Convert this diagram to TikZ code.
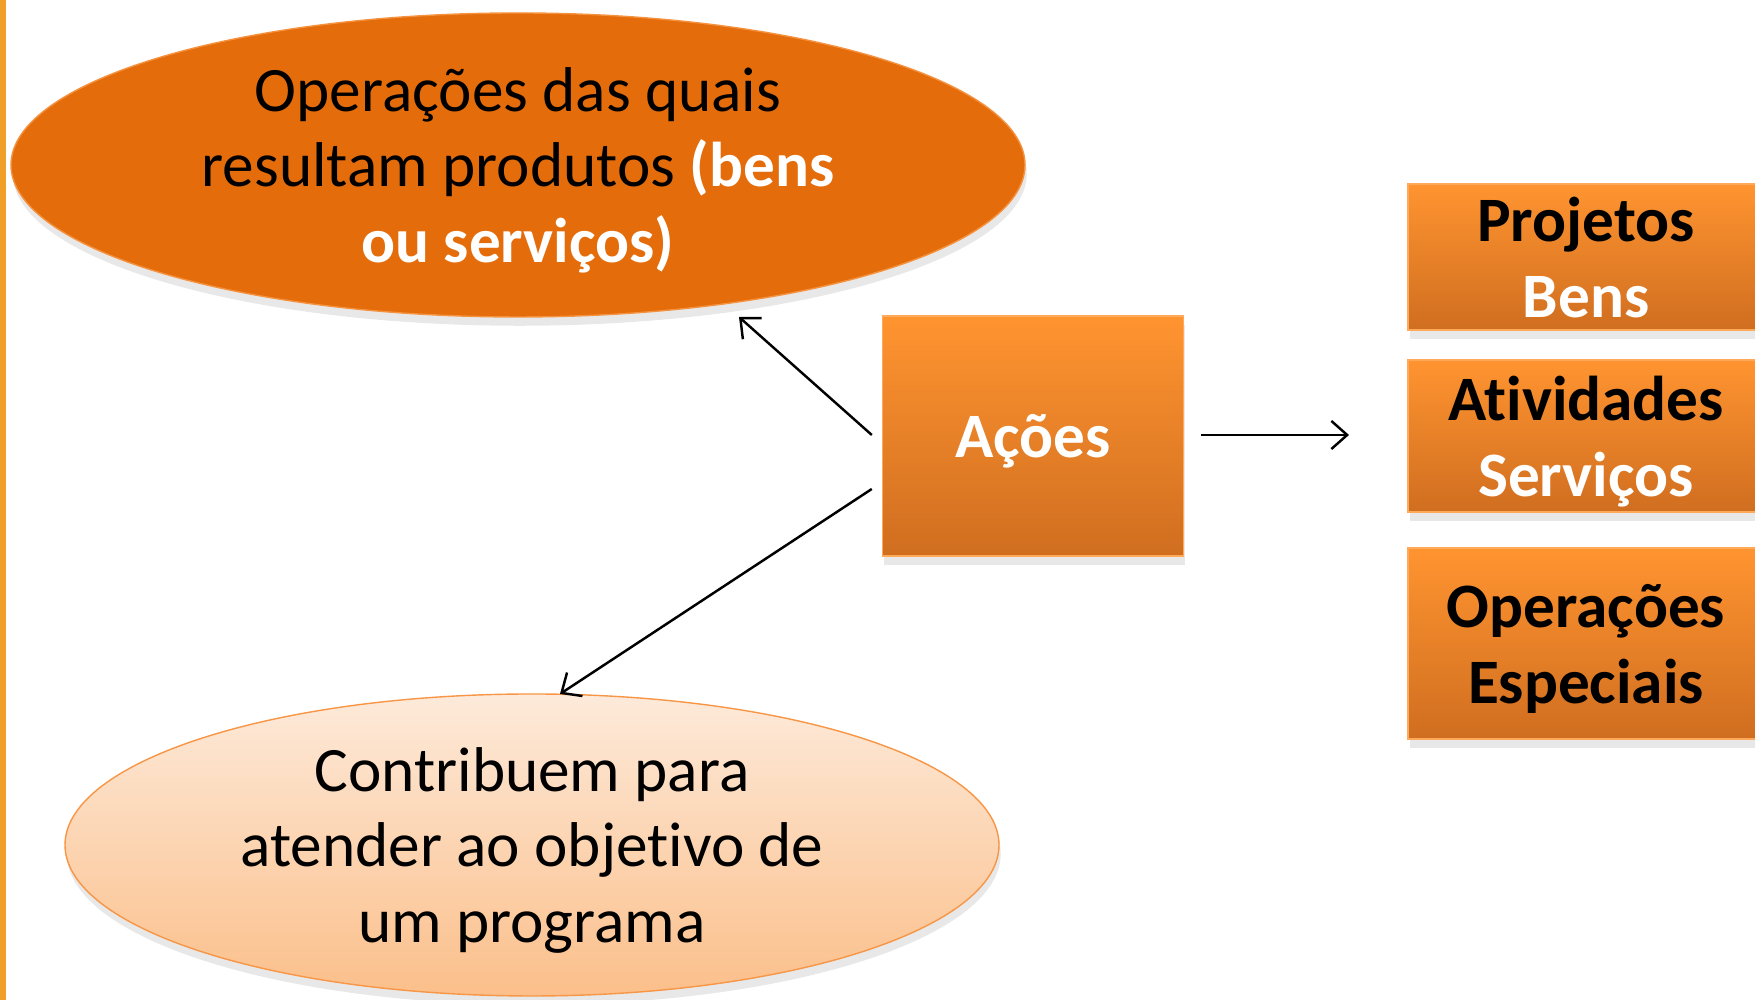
\documentclass[tikz,border=0pt]{standalone}
\usepackage{fontspec}
\setmainfont{Carlito}[RawFeature={-liga;-calt;-clig;-dlig}]
\usetikzlibrary{shapes.geometric,shadows,arrows.meta}

\definecolor{laranja}{HTML}{E46C0A}
\definecolor{borda}{HTML}{F79646}
\definecolor{claro}{HTML}{FDEADA}
\definecolor{pessego}{HTML}{FBBF8A}
\definecolor{caixatopo}{HTML}{FF9430}
\definecolor{caixabase}{HTML}{D06E20}
\definecolor{barra}{HTML}{F0A028}

\tikzset{
  >={Straight Barb[length=4.5pt,width=8pt]},
  sombra/.style={drop shadow={opacity=0.18,shadow xshift=0.5pt,shadow yshift=-2.5pt}},
  elipse/.style={ellipse,inner sep=0pt,align=center,sombra,text depth=0pt,
    font=\fontsize{18}{21.6}\selectfont},
  caixa/.style={rectangle,inner sep=0pt,align=center,sombra,text depth=0pt,
    top color=caixatopo,bottom color=caixabase,draw=caixatopo!80!white,
    font=\bfseries\fontsize{18}{21.6}\selectfont},
}

\begin{document}
\begin{tikzpicture}
\useasboundingbox (0,0) rectangle (17.55,10);
\fill[barra] (0,0) rectangle (0.06,10);

\node[elipse,fill=laranja,draw=borda!90!laranja,minimum width=10.14cm,minimum height=3.04cm]
  (resultado) at (5.18,8.35)
  {Operações das quais\\resultam produtos \textcolor{white}{\bfseries(bens}\\
   \textcolor{white}{\bfseries ou serviços)}};
\node[elipse,top color=claro,bottom color=pessego,draw=borda,minimum width=9.34cm,minimum height=3.02cm]
  (programa) at (5.32,1.55)
  {Contribuem para\\atender ao objetivo de\\um programa};

\node[caixa,minimum width=3.01cm,minimum height=2.40cm,text=white] (acoes) at (10.33,5.64) {Ações};

\node[caixa,minimum width=3.56cm,minimum height=1.46cm] (projetos) at (15.86,7.43)
  {Projetos\\\textcolor{white}{Bens}};
\node[caixa,minimum width=3.56cm,minimum height=1.52cm] (atividades) at (15.86,5.64)
  {Atividades\\\textcolor{white}{Serviços}};
\node[caixa,minimum width=3.56cm,minimum height=1.91cm] (especiais) at (15.86,3.565)
  {Operações\\Especiais};

\coordinate (res_tip) at (7.39,6.83);
\coordinate (prog_tip) at (5.60,3.06);
\coordinate (tipos_tip) at (13.49,5.65);

\draw[->,line width=0.7pt] ([xshift=-0.1cm,yshift=0.01cm]acoes.west) to (res_tip);
\draw[->,line width=0.7pt] ([xshift=-0.1cm,yshift=-0.53cm]acoes.west) to (prog_tip);
\draw[->,line width=0.7pt] ([xshift=0.17cm,yshift=0.01cm]acoes.east) to (tipos_tip);
\end{tikzpicture}
\end{document}
